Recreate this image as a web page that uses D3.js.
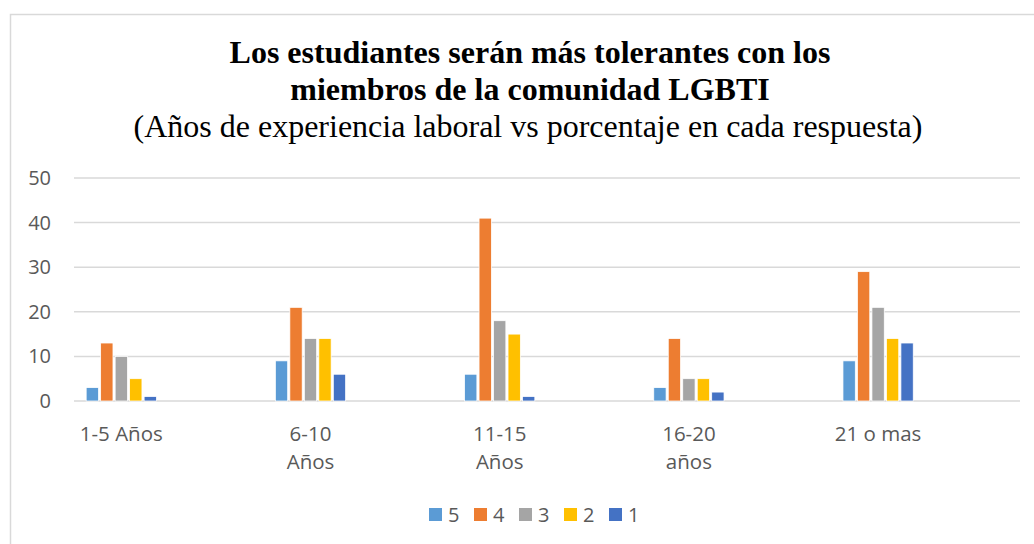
<!DOCTYPE html>
<html>
<head>
<meta charset="utf-8">
<script src="https://cdn.jsdelivr.net/npm/d3@7"></script>
<style>
  body { margin: 0; background: #fff; }
  svg { display: block; }
</style>
</head>
<body>
<svg id="chart" width="1034" height="544"></svg>
<script>
// data
const categories = ["1-5 Años", "6-10 Años", "11-15 Años", "16-20 años", "21 o mas"];
const catLines = [["1-5 Años"], ["6-10", "Años"], ["11-15", "Años"], ["16-20", "años"], ["21 o mas"]];
const series = ["5", "4", "3", "2", "1"];
const values = [
  [3, 13, 10, 5, 1],   // 1-5 Años
  [9, 21, 14, 14, 6],  // 6-10
  [6, 41, 18, 15, 1],  // 11-15
  [3, 14, 5, 5, 2],    // 16-20
  [9, 29, 21, 14, 13]  // 21 o mas
];
const yTicks = [0, 10, 20, 30, 40, 50];
const colors = ["#5B9BD5", "#ED7D31", "#A5A5A5", "#FFC000", "#4472C4"];

const svg = d3.select("#chart")
  .attr("font-family", "'Open Sans', sans-serif");

const margin = {top: 178, right: 14, bottom: 143, left: 74};
const width = 1034 - margin.left - margin.right;
const height = 544 - margin.top - margin.bottom;

// chart frame
svg.append("rect")
  .attr("x", 10.5).attr("y", 14.5)
  .attr("width", 1040).attr("height", 560)
  .attr("fill", "none")
  .attr("stroke", "#d9d9d9")
  .attr("stroke-width", 1.5);

// titles
const title = svg.append("g")
  .attr("font-family", "'Liberation Serif', 'Times New Roman', serif")
  .attr("text-anchor", "middle")
  .attr("fill", "#000");
title.append("text").attr("x", 530).attr("y", 63)
  .attr("font-size", 32).attr("font-weight", "bold")
  .text("Los estudiantes serán más tolerantes con los");
title.append("text").attr("x", 530).attr("y", 100)
  .attr("font-size", 32).attr("font-weight", "bold")
  .text("miembros de la comunidad LGBTI");
title.append("text").attr("x", 528).attr("y", 137)
  .attr("font-size", 32)
  .text("(Años de experiencia laboral vs porcentaje en cada respuesta)");

const g = svg.append("g").attr("transform", `translate(${margin.left},${margin.top})`);

const y = d3.scaleLinear().domain([0, 50]).range([height, 0]);

// each category sits in the first half of its band (Excel layout with blank slots)
const x0 = d3.scaleBand().domain(categories).range([0, width]);
const x1 = d3.scaleBand().domain(series)
  .range([0, x0.bandwidth() / 2])
  .paddingInner(0.15)
  .paddingOuter(0.84);

// grid
g.append("g")
  .selectAll("line")
  .data(yTicks)
  .join("line")
  .attr("x1", 0).attr("x2", width)
  .attr("y1", d => y(d)).attr("y2", d => y(d))
  .attr("stroke", "#d9d9d9")
  .attr("stroke-width", 1.5);

// y axis labels
const yAxis = g.append("g")
  .call(d3.axisLeft(y).tickValues(yTicks).tickSize(0).tickPadding(23))
  .call(g => g.select(".domain").remove());
yAxis.selectAll("text")
  .attr("font-family", "'Open Sans', sans-serif")
  .attr("font-size", 20)
  .attr("fill", "#595959");

// bars
const groups = g.append("g")
  .selectAll("g")
  .data(values)
  .join("g")
  .attr("transform", (d, i) => `translate(${x0(categories[i])},0)`);

groups.selectAll("rect")
  .data(d => d.map((v, j) => ({key: series[j], value: v, color: colors[j]})))
  .join("rect")
  .attr("x", d => x1(d.key))
  .attr("y", d => y(d.value))
  .attr("width", x1.bandwidth())
  .attr("height", d => height - y(d.value))
  .attr("fill", d => d.color)
  .attr("stroke", "#fff")
  .attr("stroke-width", 0.75);

// category labels
const xLabels = g.append("g")
  .attr("font-size", 20.5)
  .attr("fill", "#595959")
  .attr("text-anchor", "middle");
xLabels.selectAll("text")
  .data(catLines)
  .join("text")
  .attr("x", (d, i) => x0(categories[i]) + x0.bandwidth() / 4)
  .attr("y", height + 40)
  .each(function(lines) {
    d3.select(this).selectAll("tspan")
      .data(lines)
      .join("tspan")
      .attr("x", d3.select(this).attr("x"))
      .attr("dy", (d, k) => k === 0 ? 0 : 28)
      .text(d => d);
  });

// legend
const legend = svg.append("g")
  .attr("transform", "translate(429,515)")
  .attr("font-size", 20)
  .attr("fill", "#595959");
const item = legend.selectAll("g")
  .data(series)
  .join("g")
  .attr("transform", (d, i) => `translate(${i * 45},0)`);
item.append("rect")
  .attr("x", 0).attr("y", -7)
  .attr("width", 13).attr("height", 13)
  .attr("fill", (d, i) => colors[i]);
item.append("text")
  .attr("x", 19).attr("y", 7)
  .text(d => d);
</script>
</body>
</html>
